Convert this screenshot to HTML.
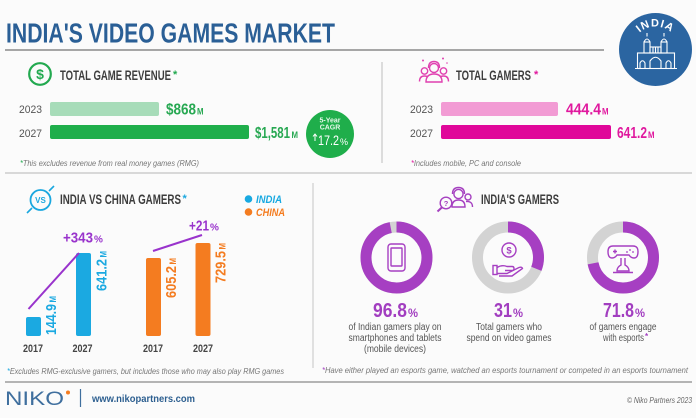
<!DOCTYPE html>
<html>
<head>
<meta charset="utf-8">
<style>
  html,body{margin:0;padding:0;background:#fbfbfb;}
  svg{display:block;}
  text{font-family:"Liberation Sans",sans-serif;}
</style>
</head>
<body>
<svg width="696" height="418" viewBox="0 0 696 418" xmlns="http://www.w3.org/2000/svg">
  <rect x="0" y="0" width="696" height="418" fill="#fbfbfb"/>

  <!-- Title -->
  <text x="6" y="42.5" font-size="28" font-weight="bold" fill="#2a5f96" textLength="329" lengthAdjust="spacingAndGlyphs">INDIA'S VIDEO GAMES MARKET</text>
  <line x1="5" y1="50" x2="604" y2="50" stroke="#8a8a8a" stroke-width="1.5"/>

  <!-- India circle -->
  <circle cx="655.5" cy="49.5" r="36.5" fill="#2b65a1"/>
  <path id="arcIndia" d="M632,50 A23.5,23.5 0 0 1 679,50" fill="none"/>
  <text font-size="11" font-weight="bold" fill="#fff" letter-spacing="1"><textPath href="#arcIndia" startOffset="50%" text-anchor="middle">INDIA</textPath></text>
  <g stroke="#fff" fill="none" stroke-width="1.1">
    <line x1="635" y1="68.5" x2="677" y2="68.5"/>
    <rect x="637.5" y="53" width="37" height="15.5"/>
    <path d="M650 68.5 V61 Q655.5 53.5 661 61 V68.5"/>
    <path d="M640 68.5 V63 Q642.5 58.5 645 63 V68.5"/>
    <path d="M666 68.5 V63 Q668.5 58.5 671 63 V68.5"/>
    <rect x="644" y="42" width="6" height="11"/>
    <rect x="661" y="42" width="6" height="11"/>
    <path d="M644 42 Q647 36 650 42"/>
    <path d="M661 42 Q664 36 667 42"/>
    <line x1="647" y1="36.5" x2="647" y2="33"/>
    <line x1="664" y1="36.5" x2="664" y2="33"/>
    <rect x="650" y="47" width="11" height="6"/>
    <line x1="653" y1="47" x2="653" y2="53"/>
    <line x1="655.5" y1="47" x2="655.5" y2="53"/>
    <line x1="658" y1="47" x2="658" y2="53"/>
  </g>

  <!-- ===== TOTAL GAME REVENUE ===== -->
  <circle cx="40" cy="74" r="10.8" fill="none" stroke="#22a94f" stroke-width="2.2"/>
  <text x="40" y="79" font-size="14" font-weight="bold" fill="#22a94f" text-anchor="middle">$</text>
  <text x="60" y="80" font-size="13.5" font-weight="bold" fill="#3d3d3d" textLength="111" lengthAdjust="spacingAndGlyphs">TOTAL GAME REVENUE</text>
  <text x="173" y="78" font-size="11" font-weight="bold" fill="#22a94f">*</text>

  <text x="19" y="113" font-size="11" fill="#555" textLength="23" lengthAdjust="spacingAndGlyphs">2023</text>
  <text x="19" y="137" font-size="11" fill="#555" textLength="23" lengthAdjust="spacingAndGlyphs">2027</text>
  <rect x="50" y="102" width="109" height="14" rx="2" fill="#a7dcb9"/>
  <rect x="50" y="125" width="199" height="14" rx="2" fill="#1fae4b"/>
  <text x="166" y="114.5" font-size="16" font-weight="bold" fill="#27a852" textLength="30" lengthAdjust="spacingAndGlyphs">$868</text>
  <text x="197" y="114.5" font-size="9" font-weight="bold" fill="#27a852" textLength="6.5" lengthAdjust="spacingAndGlyphs">M</text>
  <text x="255" y="138" font-size="16" font-weight="bold" fill="#27a852" textLength="35" lengthAdjust="spacingAndGlyphs">$1,581</text>
  <text x="291.5" y="138" font-size="9" font-weight="bold" fill="#27a852" textLength="6.5" lengthAdjust="spacingAndGlyphs">M</text>

  <!-- CAGR -->
  <circle cx="330" cy="134" r="24" fill="#1fae4b"/>
  <text x="330" y="122.5" font-size="7" font-weight="bold" fill="#e6f7ea" text-anchor="middle">5-Year</text>
  <text x="330" y="129.5" font-size="7" font-weight="bold" fill="#e6f7ea" text-anchor="middle">CAGR</text>
  <path d="M315 141 V134.5 M313 136.5 L315 134 L317 136.5" stroke="#fff" stroke-width="1" fill="none"/>
  <text x="318" y="145" font-size="14" fill="#fff" textLength="21" lengthAdjust="spacingAndGlyphs">17.2</text>
  <text x="340" y="145" font-size="9" fill="#fff">%</text>

  <text x="20" y="166" font-size="8" font-style="italic" fill="#777" textLength="179" lengthAdjust="spacingAndGlyphs"><tspan fill="#22a94f">*</tspan>This excludes revenue from real money games (RMG)</text>

  <line x1="382" y1="62" x2="382" y2="163" stroke="#bdbdbd" stroke-width="1"/>

  <!-- ===== TOTAL GAMERS ===== -->
  <g stroke="#e040b0" fill="none" stroke-width="1.4">
    <circle cx="434" cy="68" r="4.5"/>
    <path d="M428.5 68 Q428.5 61.5 434 61.5 Q439.5 61.5 439.5 68"/>
    <path d="M426 82 Q426 74 434 74 Q442 74 442 82 Z"/>
    <circle cx="424.5" cy="71" r="3.2"/>
    <path d="M419.5 81.5 Q419.5 76 424.5 76 Q426 76 427 76.5"/>
    <circle cx="443.5" cy="71" r="3.2"/>
    <path d="M448.5 81.5 Q448.5 76 443.5 76 Q442 76 441 76.5"/>
  </g>
  <circle cx="423" cy="60.5" r="1" fill="#e040b0"/>
  <circle cx="443" cy="58.5" r="1" fill="#e040b0"/>
  <circle cx="447" cy="63" r="0.8" fill="#e040b0"/>
  <text x="456" y="80" font-size="13.5" font-weight="bold" fill="#3d3d3d" textLength="75" lengthAdjust="spacingAndGlyphs">TOTAL GAMERS</text>
  <text x="534" y="78" font-size="11" font-weight="bold" fill="#e0189e">*</text>

  <text x="410" y="113" font-size="11" fill="#555" textLength="23" lengthAdjust="spacingAndGlyphs">2023</text>
  <text x="410" y="137" font-size="11" fill="#555" textLength="23" lengthAdjust="spacingAndGlyphs">2027</text>
  <rect x="441" y="102" width="117" height="14" rx="2" fill="#f29bd4"/>
  <rect x="441" y="125" width="170" height="14" rx="2" fill="#e0079a"/>
  <text x="566" y="114.5" font-size="16" font-weight="bold" fill="#e0189e" textLength="35" lengthAdjust="spacingAndGlyphs">444.4</text>
  <text x="602" y="114.5" font-size="9" font-weight="bold" fill="#e0189e" textLength="6.5" lengthAdjust="spacingAndGlyphs">M</text>
  <text x="617" y="138" font-size="16" font-weight="bold" fill="#e0189e" textLength="30" lengthAdjust="spacingAndGlyphs">641.2</text>
  <text x="648" y="138" font-size="9" font-weight="bold" fill="#e0189e" textLength="6.5" lengthAdjust="spacingAndGlyphs">M</text>

  <text x="411" y="166" font-size="8" font-style="italic" fill="#777" textLength="110" lengthAdjust="spacingAndGlyphs"><tspan fill="#e0189e">*</tspan>Includes mobile, PC and console</text>

  <line x1="5" y1="173" x2="692" y2="173" stroke="#c4c4c4" stroke-width="1.2"/>

  <!-- ===== INDIA VS CHINA ===== -->
  <circle cx="40.5" cy="200" r="10" fill="none" stroke="#1aa7df" stroke-width="1.8"/>
  <text x="40.5" y="203" font-size="8" font-weight="bold" fill="#1aa7df" text-anchor="middle">VS</text>
  <line x1="27" y1="213" x2="32" y2="208" stroke="#1aa7df" stroke-width="1.6"/>
  <line x1="49" y1="191" x2="54" y2="186" stroke="#1aa7df" stroke-width="1.6"/>
  <text x="60" y="204" font-size="13.5" font-weight="bold" fill="#3d3d3d" textLength="121" lengthAdjust="spacingAndGlyphs">INDIA VS CHINA GAMERS</text>
  <text x="182.5" y="202" font-size="11" font-weight="bold" fill="#1aa7df">*</text>

  <circle cx="248.5" cy="199" r="3.8" fill="#18a9e1"/>
  <text x="256" y="203" font-size="11" font-weight="bold" font-style="italic" fill="#18a9e1" textLength="26" lengthAdjust="spacingAndGlyphs">INDIA</text>
  <circle cx="248.5" cy="212" r="3.8" fill="#f47c20"/>
  <text x="256" y="216" font-size="11" font-weight="bold" font-style="italic" fill="#f47c20" textLength="29" lengthAdjust="spacingAndGlyphs">CHINA</text>

  <rect x="26" y="317" width="15" height="19" rx="2" fill="#1ba9e1"/>
  <rect x="76" y="253" width="15" height="83" rx="2" fill="#1ba9e1"/>
  <rect x="146" y="258" width="15" height="78" rx="2" fill="#f47c20"/>
  <rect x="195.5" y="243" width="15" height="93" rx="2" fill="#f47c20"/>

  <g transform="translate(56,335) rotate(-90)">
    <text x="0" y="0" font-size="15" font-weight="bold" fill="#1ba9e1" textLength="31" lengthAdjust="spacingAndGlyphs">144.9</text>
    <text x="32.5" y="0" font-size="9" font-weight="bold" fill="#1ba9e1" textLength="6.5" lengthAdjust="spacingAndGlyphs">M</text>
  </g>
  <g transform="translate(106.5,291) rotate(-90)">
    <text x="0" y="0" font-size="15" font-weight="bold" fill="#1ba9e1" textLength="32" lengthAdjust="spacingAndGlyphs">641.2</text>
    <text x="33.5" y="0" font-size="9" font-weight="bold" fill="#1ba9e1" textLength="6.5" lengthAdjust="spacingAndGlyphs">M</text>
  </g>
  <g transform="translate(176,298) rotate(-90)">
    <text x="0" y="0" font-size="15" font-weight="bold" fill="#f47c20" textLength="32" lengthAdjust="spacingAndGlyphs">605.2</text>
    <text x="33.5" y="0" font-size="9" font-weight="bold" fill="#f47c20" textLength="6.5" lengthAdjust="spacingAndGlyphs">M</text>
  </g>
  <g transform="translate(225.5,283) rotate(-90)">
    <text x="0" y="0" font-size="15" font-weight="bold" fill="#f47c20" textLength="32" lengthAdjust="spacingAndGlyphs">729.5</text>
    <text x="33.5" y="0" font-size="9" font-weight="bold" fill="#f47c20" textLength="6.5" lengthAdjust="spacingAndGlyphs">M</text>
  </g>

  <text x="33" y="352" font-size="11" font-weight="bold" fill="#444" text-anchor="middle" textLength="20" lengthAdjust="spacingAndGlyphs">2017</text>
  <text x="82.5" y="352" font-size="11" font-weight="bold" fill="#444" text-anchor="middle" textLength="20" lengthAdjust="spacingAndGlyphs">2027</text>
  <text x="153" y="352" font-size="11" font-weight="bold" fill="#444" text-anchor="middle" textLength="20" lengthAdjust="spacingAndGlyphs">2017</text>
  <text x="203" y="352" font-size="11" font-weight="bold" fill="#444" text-anchor="middle" textLength="20" lengthAdjust="spacingAndGlyphs">2027</text>

  <line x1="28.5" y1="309" x2="79" y2="253" stroke="#9933cc" stroke-width="2"/>
  <text x="63" y="242.5" font-size="15" font-weight="bold" fill="#9933cc" textLength="30" lengthAdjust="spacingAndGlyphs">+343</text>
  <text x="94" y="242.5" font-size="10" font-weight="bold" fill="#9933cc">%</text>
  <line x1="153" y1="251" x2="202" y2="235" stroke="#9933cc" stroke-width="2"/>
  <text x="189" y="230.5" font-size="15" font-weight="bold" fill="#9933cc" textLength="20" lengthAdjust="spacingAndGlyphs">+21</text>
  <text x="210" y="230.5" font-size="10" font-weight="bold" fill="#9933cc">%</text>

  <text x="7" y="374" font-size="8" font-style="italic" fill="#777" textLength="277" lengthAdjust="spacingAndGlyphs"><tspan fill="#1aa7df">*</tspan>Excludes RMG-exclusive gamers, but includes those who may also play RMG games</text>

  <line x1="313" y1="183" x2="313" y2="368" stroke="#c4c4c4" stroke-width="1"/>

  <!-- ===== INDIA'S GAMERS ===== -->
  <g stroke="#a540c0" fill="none" stroke-width="1.4">
    <circle cx="446" cy="203" r="5.8"/>
    <line x1="441.8" y1="207.5" x2="437.5" y2="211.5" stroke-width="2"/>
    <circle cx="458.5" cy="194" r="4.6"/>
    <path d="M452.5 194 Q452.5 187.5 458.5 187.5 Q464.5 187.5 464.5 194"/>
    <path d="M452 207 Q452 200 458.5 200 Q465 200 465 207 Z"/>
    <circle cx="468" cy="197" r="3"/>
    <path d="M466 201.5 Q472.5 201 472.5 207"/>
  </g>
  <text x="446" y="206" font-size="7.5" font-weight="bold" fill="#a540c0" text-anchor="middle">?</text>
  <text x="481" y="204" font-size="13.5" font-weight="bold" fill="#3d3d3d" textLength="78" lengthAdjust="spacingAndGlyphs">INDIA'S GAMERS</text>

  <!-- donuts -->
  <g fill="none" stroke-width="11">
    <circle cx="396.5" cy="257.5" r="30.5" stroke="#d3d3d3"/>
    <circle cx="396.5" cy="257.5" r="30.5" stroke="#a63fc2" stroke-dasharray="185.5 191.64" transform="rotate(-90 396.5 257.5)"/>
    <circle cx="508" cy="257.5" r="30.5" stroke="#d3d3d3"/>
    <circle cx="508" cy="257.5" r="30.5" stroke="#a63fc2" stroke-dasharray="59.4 191.64" transform="rotate(-90 508 257.5)"/>
    <circle cx="623" cy="257.5" r="30.5" stroke="#d3d3d3"/>
    <circle cx="623" cy="257.5" r="30.5" stroke="#a63fc2" stroke-dasharray="137.6 191.64" transform="rotate(-90 623 257.5)"/>
  </g>

  <!-- tablet icon -->
  <g stroke="#a63fc2" fill="none" stroke-width="1.4">
    <rect x="388" y="244" width="17" height="27" rx="3"/>
    <rect x="391" y="248" width="11" height="18" rx="0.5"/>
  </g>
  <!-- hand + coin icon -->
  <g stroke="#a63fc2" fill="none" stroke-width="1.4">
    <circle cx="509" cy="250" r="7"/>
    <rect x="493" y="265.5" width="4" height="9"/>
    <path d="M497 267.5 Q502 264.5 507 266.5 H512 Q514 266.5 514 268.5 Q514 270.5 512 270.5 H505"/>
    <path d="M497 273.5 H507 L519 267.5 Q522 266.5 522.5 268.5 L512 276 H499"/>
  </g>
  <text x="509" y="253.5" font-size="9.5" font-weight="bold" fill="#a63fc2" text-anchor="middle">$</text>
  <!-- gamepad icon -->
  <g stroke="#a63fc2" fill="none" stroke-width="1.4">
    <path d="M613 246 H633 Q638 246 638 251.5 Q638 258 634 258 Q631 258 629 255 H617 Q615 258 612 258 Q608 258 608 251.5 Q608 246 613 246 Z"/>
    <path d="M615 249.5 V253.5 M613 251.5 H617"/>
    <path d="M621 258 V265 Q617 267 617 271 H629 Q629 267 625 265 V258"/>
    <line x1="613" y1="272.5" x2="633" y2="272.5"/>
  </g>
  <circle cx="630" cy="250" r="0.9" fill="#a63fc2"/>
  <circle cx="633" cy="252" r="0.9" fill="#a63fc2"/>
  <circle cx="627" cy="252" r="0.9" fill="#a63fc2"/>

  <!-- percents -->
  <text x="373" y="317" font-size="20" font-weight="bold" fill="#a23ec0" textLength="34" lengthAdjust="spacingAndGlyphs">96.8</text>
  <text x="408" y="317" font-size="12" font-weight="bold" fill="#a23ec0" textLength="10" lengthAdjust="spacingAndGlyphs">%</text>
  <text x="494" y="317" font-size="20" font-weight="bold" fill="#a23ec0" textLength="18" lengthAdjust="spacingAndGlyphs">31</text>
  <text x="513" y="317" font-size="12" font-weight="bold" fill="#a23ec0" textLength="10" lengthAdjust="spacingAndGlyphs">%</text>
  <text x="603" y="317" font-size="20" font-weight="bold" fill="#a23ec0" textLength="31" lengthAdjust="spacingAndGlyphs">71.8</text>
  <text x="635" y="317" font-size="12" font-weight="bold" fill="#a23ec0" textLength="10" lengthAdjust="spacingAndGlyphs">%</text>

  <g font-size="10" fill="#555" text-anchor="middle">
    <text x="395" y="330" textLength="93" lengthAdjust="spacingAndGlyphs">of Indian gamers play on</text>
    <text x="395" y="341" textLength="93" lengthAdjust="spacingAndGlyphs">smartphones and tablets</text>
    <text x="395" y="352" textLength="62" lengthAdjust="spacingAndGlyphs">(mobile devices)</text>
    <text x="509" y="330" textLength="66" lengthAdjust="spacingAndGlyphs">Total gamers who</text>
    <text x="509" y="341" textLength="85" lengthAdjust="spacingAndGlyphs">spend on video games</text>
    <text x="623" y="330" textLength="67" lengthAdjust="spacingAndGlyphs">of gamers engage</text>
  </g>
  <text x="603" y="341" font-size="10" fill="#555" textLength="41" lengthAdjust="spacingAndGlyphs">with esports</text>
  <text x="645" y="339" font-size="8" font-weight="bold" fill="#a23ec0">*</text>

  <text x="322" y="373" font-size="8" font-style="italic" fill="#777" textLength="366" lengthAdjust="spacingAndGlyphs"><tspan fill="#a23ec0">*</tspan>Have either played an esports game, watched an esports tournament or competed in an esports tournament</text>

  <!-- Footer -->
  <line x1="5" y1="382" x2="692" y2="382" stroke="#8a8a8a" stroke-width="1.3"/>
  <text x="5" y="405" font-size="19" fill="#3f6f9e" textLength="59" lengthAdjust="spacingAndGlyphs">NIKO</text>
  <circle cx="68" cy="392.5" r="2" fill="#f47c20"/>
  <line x1="80.5" y1="389" x2="80.5" y2="407" stroke="#3f6f9e" stroke-width="1.2"/>
  <text x="92" y="402" font-size="10" font-weight="bold" fill="#2d5f90" textLength="103" lengthAdjust="spacingAndGlyphs">www.nikopartners.com</text>
  <text x="627" y="403" font-size="8" font-style="italic" fill="#666" textLength="65" lengthAdjust="spacingAndGlyphs">© Niko Partners 2023</text>
</svg>
</body>
</html>
